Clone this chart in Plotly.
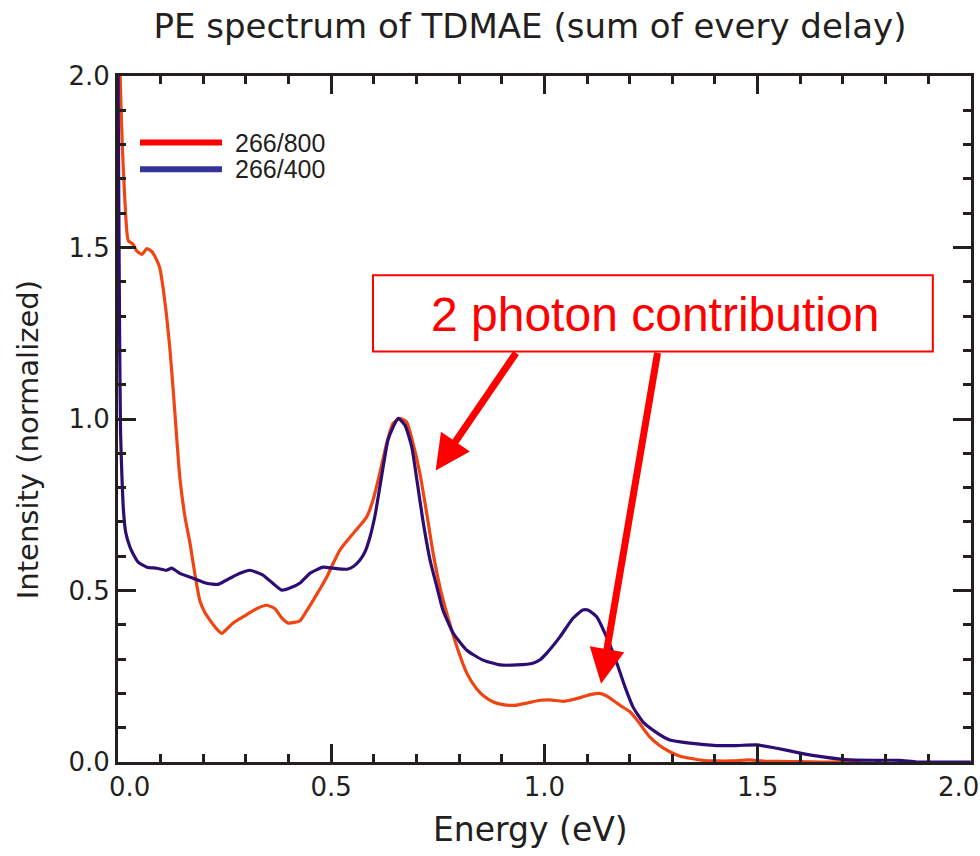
import plotly.graph_objects as go

# ---------------- data ----------------
energy_800 = [0.000, 0.005, 0.010, 0.016, 0.024, 0.035, 0.044, 0.056, 0.068, 0.080,
              0.091, 0.098, 0.106, 0.114, 0.122, 0.130, 0.138, 0.145, 0.157, 0.169,
              0.180, 0.192, 0.204, 0.216, 0.230, 0.243, 0.257, 0.270, 0.286, 0.302,
              0.325, 0.349, 0.368, 0.384, 0.399, 0.414, 0.427, 0.442, 0.458, 0.474,
              0.490, 0.505, 0.520, 0.536, 0.552, 0.568, 0.583, 0.598, 0.614, 0.630,
              0.645, 0.661, 0.677, 0.692, 0.708, 0.724, 0.739, 0.755, 0.771, 0.795,
              0.818, 0.840, 0.860, 0.880, 0.900, 0.930, 0.960, 0.990, 1.013, 1.044,
              1.070, 1.090, 1.110, 1.130, 1.145, 1.161, 1.180, 1.200, 1.220, 1.247,
              1.270, 1.294, 1.320, 1.341, 1.370, 1.404, 1.440, 1.480, 1.510, 1.550,
              1.600, 1.650, 1.700, 1.750, 1.800, 1.850, 1.900, 1.950, 2.000]
intensity_800 = [2.40, 2.00, 1.80, 1.64, 1.52, 1.51, 1.49, 1.48, 1.497, 1.487,
                 1.463, 1.44, 1.38, 1.30, 1.20, 1.075, 0.94, 0.83, 0.715, 0.637,
                 0.55, 0.47, 0.435, 0.413, 0.39, 0.375, 0.39, 0.405, 0.418, 0.43,
                 0.447, 0.457, 0.447, 0.42, 0.405, 0.407, 0.412, 0.44, 0.472, 0.505,
                 0.54, 0.58, 0.617, 0.643, 0.667, 0.69, 0.714, 0.763, 0.842, 0.929,
                 0.987, 1.002, 0.991, 0.929, 0.842, 0.725, 0.609, 0.51, 0.434, 0.335,
                 0.259, 0.215, 0.19, 0.175, 0.168, 0.165, 0.172, 0.18, 0.181, 0.177,
                 0.183, 0.19, 0.197, 0.20, 0.193, 0.18, 0.163, 0.147, 0.118, 0.073,
                 0.048, 0.03, 0.016, 0.011, 0.005, 0.003, 0.003, 0.006, 0.003, 0.002,
                 0.001, 0.0, 0.0, -0.003, -0.005, -0.006, -0.006, -0.005, -0.005]

energy_400 = [0.000, 0.002, 0.004, 0.006, 0.009, 0.013, 0.018, 0.028, 0.035, 0.047,
              0.068, 0.091, 0.114, 0.126, 0.145, 0.176, 0.208, 0.235, 0.263, 0.286,
              0.309, 0.340, 0.363, 0.384, 0.403, 0.427, 0.450, 0.481, 0.504, 0.537,
              0.552, 0.567, 0.580, 0.591, 0.603, 0.614, 0.633, 0.645, 0.657, 0.673,
              0.689, 0.701, 0.715, 0.732, 0.748, 0.762, 0.786, 0.818, 0.856, 0.896,
              0.935, 0.973, 0.990, 1.006, 1.036, 1.067, 1.090, 1.102, 1.123, 1.146,
              1.170, 1.189, 1.208, 1.231, 1.264, 1.294, 1.341, 1.404, 1.451, 1.498,
              1.545, 1.600, 1.653, 1.716, 1.780, 1.833, 1.873, 1.950, 2.000]
intensity_400 = [2.05, 1.60, 1.20, 0.96, 0.84, 0.73, 0.67, 0.627, 0.608, 0.583,
                 0.568, 0.565, 0.559, 0.565, 0.55, 0.536, 0.521, 0.518, 0.536, 0.55,
                 0.559, 0.545, 0.521, 0.501, 0.507, 0.522, 0.55, 0.568, 0.565, 0.562,
                 0.57, 0.588, 0.615, 0.656, 0.72, 0.801, 0.938, 0.976, 1.002, 0.982,
                 0.918, 0.822, 0.705, 0.588, 0.51, 0.443, 0.376, 0.326, 0.297, 0.283,
                 0.283, 0.288, 0.298, 0.318, 0.364, 0.419, 0.443, 0.443, 0.423, 0.364,
                 0.288, 0.219, 0.16, 0.117, 0.085, 0.064, 0.055, 0.048, 0.048, 0.05,
                 0.04, 0.026, 0.015, 0.006, 0.005, 0.005, 0.0, 0.0, 0.0]

series_names = ["266/800", "266/400"]
x_ticks = [0.0, 0.5, 1.0, 1.5, 2.0]
x_ticklabels = ["0.0", "0.5", "1.0", "1.5", "2.0"]
y_ticks = [0.0, 0.5, 1.0, 1.5, 2.0]
y_ticklabels = ["0.0", "0.5", "1.0", "1.5", "2.0"]

# ---------------- styles ----------------
curve_800 = "#ef4512"
curve_400 = "#2c0d74"
legend_800 = "#ff0000"
legend_400 = "#333399"
axis_col = "#231f20"
ann_red = "#ff0000"
font_main = "DejaVu Sans"
tick_font = dict(family=font_main, size=26, color=axis_col)

# end labels are drawn separately, nudged inward as in the original figure
x_ticktext = [""] + x_ticklabels[1:-1] + [""]

fig = go.Figure()
fig.add_trace(go.Scatter(x=energy_800, y=intensity_800, mode="lines",
                         name=series_names[0],
                         line=dict(color=curve_800, width=3.2, shape="spline", smoothing=0.5)))
fig.add_trace(go.Scatter(x=energy_400, y=intensity_400, mode="lines",
                         name=series_names[1],
                         line=dict(color=curve_400, width=3.2, shape="spline", smoothing=0.5)))

axis_common = dict(
    showgrid=False, zeroline=False, showline=True, linecolor=axis_col, linewidth=3,
    mirror="ticks", ticks="inside", ticklen=18, tickwidth=3, tickcolor=axis_col,
    tickfont=tick_font, ticklabeloverflow="allow", automargin=False,
    minor=dict(ticks="inside", ticklen=8, tickwidth=3, tickcolor=axis_col, dtick=0.1),
)
fig.update_xaxes(range=[0, 2.0005], tickvals=x_ticks, ticktext=x_ticktext, **axis_common)
fig.update_yaxes(range=[0, 2.0], tickvals=y_ticks, ticktext=y_ticklabels, **axis_common)

shapes = []
annotations = []

# end tick labels of the x axis
for xv, txt, shift in [(x_ticks[0], x_ticklabels[0], 11), (x_ticks[-1], x_ticklabels[-1], -12)]:
    annotations.append(dict(xref="x", yref="paper", x=xv, y=0, yshift=-25, xshift=shift,
                            text=txt, showarrow=False, xanchor="center", yanchor="middle",
                            font=tick_font))

# manual legend (line samples + labels)
leg = [(series_names[0], legend_800, 0.903), (series_names[1], legend_400, 0.864)]
for name, col, yy in leg:
    shapes.append(dict(type="line", xref="paper", yref="paper", x0=0.0258, x1=0.1219,
                       y0=yy, y1=yy, line=dict(color=col, width=6)))
    annotations.append(dict(xref="paper", yref="paper", x=0.1348, y=yy, xanchor="left",
                            yanchor="middle", text=name, showarrow=False,
                            font=dict(family="Liberation Sans", size=25, color=axis_col)))

# annotation box
shapes.append(dict(type="rect", xref="x", yref="y", x0=0.598, x1=1.911, y0=1.197, y1=1.419,
                   line=dict(color=ann_red, width=2), fillcolor="rgba(0,0,0,0)"))
annotations.append(dict(xref="x", yref="y", x=1.260, y=1.305, text="2 photon contribution",
                        showarrow=False, xanchor="center", yanchor="middle",
                        font=dict(family="Liberation Sans", size=48, color=ann_red)))
# arrows
for (tx, ty, sx, sy) in [(0.745, 0.85, 0.936, 1.197), (1.133, 0.228, 1.266, 1.197)]:
    annotations.append(dict(xref="x", yref="y", axref="x", ayref="y", x=tx, y=ty, ax=sx, ay=sy,
                            text="", showarrow=True, arrowhead=2, arrowsize=1.0,
                            arrowwidth=7, arrowcolor=ann_red, standoff=0))

# axis titles
annotations.append(dict(xref="paper", yref="paper", x=(530 - 118) / 853, y=(762 - 830) / 686.5,
                        text="Energy (eV)", showarrow=False, xanchor="center", yanchor="middle",
                        font=dict(family=font_main, size=33, color=axis_col)))
annotations.append(dict(xref="paper", yref="paper", x=(28 - 118) / 853, y=(762 - 440) / 686.5,
                        text="Intensity (normalized)", showarrow=False, textangle=-90,
                        xanchor="center", yanchor="middle",
                        font=dict(family=font_main, size=29, color=axis_col)))

fig.update_layout(
    width=980, height=856,
    margin=dict(l=118, r=9, t=75.5, b=94, autoexpand=False),
    paper_bgcolor="white", plot_bgcolor="white",
    showlegend=False,
    title=dict(text="PE spectrum of TDMAE (sum of every delay)", x=530 / 980, xanchor="center",
               xref="container", yref="container", y=1 - 26 / 856, yanchor="middle",
               font=dict(family=font_main, size=34, color=axis_col)),
    shapes=shapes, annotations=annotations,
)

fig.write_html("out.html")
